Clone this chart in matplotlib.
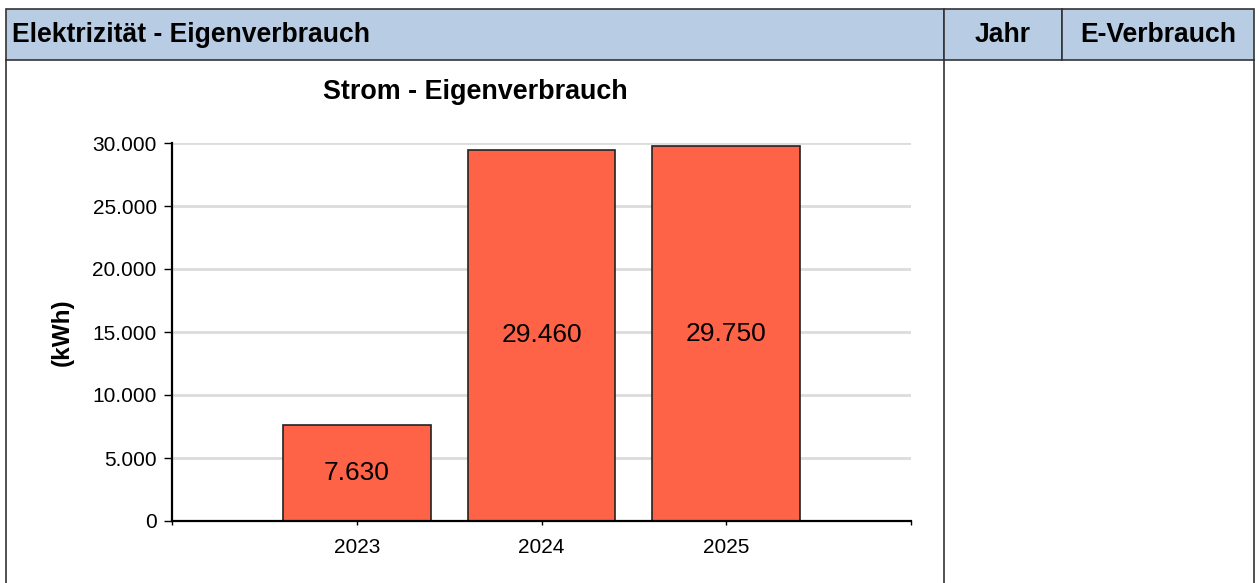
import matplotlib.pyplot as plt
from matplotlib.patches import Rectangle

plt.rcParams['font.family'] = ['Liberation Sans', 'DejaVu Sans']

# data
years = ['2023', '2024', '2025']
verbrauch = [7630, 29460, 29750]
y_ticks = [0, 5000, 10000, 15000, 20000, 25000, 30000]


def de_fmt(v):
    return f"{v:,}".replace(',', '.')


W, H = 1260, 583
fig = plt.figure(figsize=(W / 100, H / 100), dpi=100)

# background frame: header row and cell borders, in pixel coords
bg = fig.add_axes([0, 0, 1, 1])
bg.set_xlim(0, W)
bg.set_ylim(H, 0)
bg.axis('off')

head_top, head_bot = 9, 60
cells = [(6, 944), (944, 1062), (1062, 1254)]
for x0, x1 in cells:
    bg.add_patch(Rectangle((x0, head_top), x1 - x0, head_bot - head_top,
                           facecolor='#b8cce4', edgecolor='#333333', lw=1.2))
for x in [6, 944, 1254]:
    bg.plot([x, x], [head_bot, H], color='#333333', lw=1.2)

bg.text(12, 35, 'Elektrizität - Eigenverbrauch', fontsize=19.1, fontweight='bold',
        va='center', ha='left')
bg.text(1003, 35, 'Jahr', fontsize=19.1, fontweight='bold', va='center', ha='center')
bg.text(1158, 35, 'E-Verbrauch', fontsize=19.1, fontweight='bold', va='center', ha='center')

# chart title and y label
bg.text(475, 92, 'Strom - Eigenverbrauch', fontsize=19.4, fontweight='bold',
        va='center', ha='center')
bg.text(62, 332, '(kWh)', fontsize=17.5, fontweight='bold', rotation=90,
        va='center', ha='center')

# the chart itself
ax = fig.add_axes([172 / W, 62 / H, (911 - 172) / W, (521 - 143) / H])
x = list(range(len(years)))
bars = ax.bar(x, verbrauch, width=0.8, color='#ff6347', edgecolor='#222222',
              linewidth=1.2, zorder=3)

for xi, v in zip(x, verbrauch):
    ax.text(xi, v / 2, de_fmt(v), ha='center', va='center', fontsize=19, zorder=4)

ax.set_xlim(-1, len(years))
ax.set_ylim(0, 30000)
ax.set_yticks(y_ticks)
ax.set_yticklabels([de_fmt(t) for t in y_ticks])
ax.set_xticks(x)
ax.set_xticklabels(years)
ax.set_xticks([-1, len(years)], minor=True)

ax.tick_params(axis='y', labelsize=15, length=6, width=1, pad=5)
ax.tick_params(axis='x', which='both', labelsize=15, length=3, width=1, pad=9)

ax.grid(axis='y', color='#dcdcdc', lw=2, zorder=0)
for s in ['top', 'right']:
    ax.spines[s].set_visible(False)
for s in ['left', 'bottom']:
    ax.spines[s].set_linewidth(1.6)
    ax.spines[s].set_zorder(5)

fig.savefig('out.png', dpi=100)
